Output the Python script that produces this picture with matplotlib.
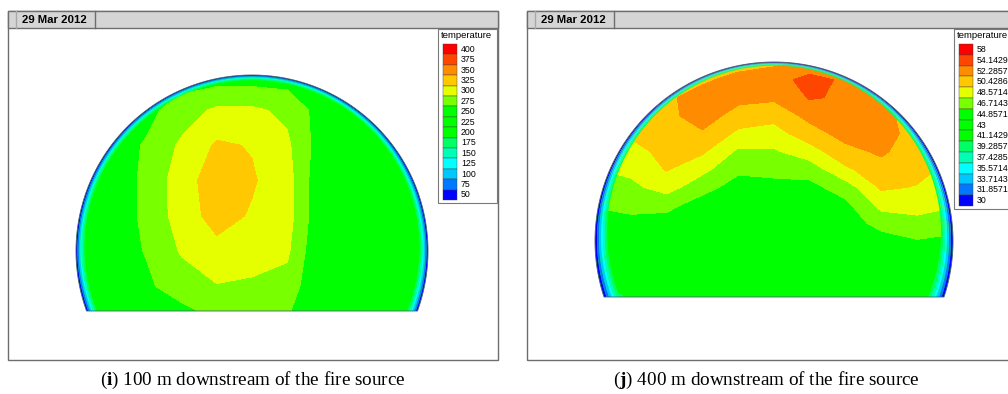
import matplotlib
matplotlib.use('Agg')
import matplotlib.pyplot as plt
from matplotlib.colors import ListedColormap, BoundaryNorm
from matplotlib.patches import Polygon, Rectangle, PathPatch
from matplotlib.path import Path
import numpy as np

plt.rcParams['mathtext.fontset'] = 'custom'
plt.rcParams['mathtext.rm'] = 'Liberation Serif'
plt.rcParams['mathtext.bf'] = 'Liberation Serif:bold'

# ---- data -------------------------------------------------------------
date_str = '29 Mar 2012'
legend_title = 'temperature'

# legend labels, top to bottom, as printed
labels_i = ['400', '375', '350', '325', '300', '275', '250', '225', '200',
            '175', '150', '125', '100', '75', '50']
labels_j = ['58', '54.1429', '52.2857', '50.4286', '48.5714', '46.7143',
            '44.8571', '43', '41.1429', '39.2857', '37.4285', '35.5714',
            '33.7143', '31.8571', '30']

# band colours, top to bottom
band_colors = ['#ff0000', '#ff4600', '#ff8c00', '#ffc800', '#e6ff00',
               '#78ff00', '#00ff00', '#00ff00', '#00ff00', '#00ff64',
               '#00ffb4', '#00ffff', '#00c8ff', '#0078ff', '#0000ff']

# section nodes: u across the tunnel, v up from the arc centre (radius = 1)
u_nodes = [-1.0, -0.8, -0.6, -0.4, -0.2, 0.0, 0.2, 0.4, 0.6, 0.8, 1.0]

v_nodes_i = [1.0, 0.8, 0.6, 0.4, 0.2, 0.0, -0.2, -0.4]
temp_i = [
    [245, 248, 250, 248, 248, 248, 248, 248, 250, 248, 245],
    [245, 250, 255, 275, 292, 292, 282, 250, 250, 248, 245],
    [245, 250, 265, 292, 316, 311, 292, 248, 250, 248, 245],
    [245, 250, 267, 302, 325, 315, 298, 240, 250, 248, 245],
    [245, 250, 267, 300, 322, 310, 298, 240, 250, 248, 245],
    [245, 250, 264, 290, 305, 300, 292, 235, 250, 248, 245],
    [245, 248, 258, 275, 286, 283, 278, 235, 250, 248, 245],
    [245, 245, 248, 248, 262, 272, 262, 235, 248, 248, 245],
]

v_nodes_j = [1.0, 0.9, 0.8, 0.7, 0.6, 0.5, 0.4, 0.3, 0.2, 0.1, 0.0,
             -0.1, -0.2, -0.3, -0.4]
# one list per column (u = -1 ... 1), values from v = 1.0 down to -0.4
cols_j = [
    [49.0, 49.0, 49.0, 49.0, 49.0, 48.3, 47.6, 46.8, 45.9, 45.0, 44.2, 43.6, 41.0, 39.0, 38.5],
    [50.5, 50.5, 50.5, 50.3, 49.75, 48.9, 48.06, 47.2, 46.26, 45.33, 44.4, 43.9, 43.0, 40.5, 41.0],
    [51.0, 51.0, 51.0, 50.8, 50.4, 50.0, 49.62, 48.4, 46.32, 45.0, 44.3, 43.8, 43.5, 43.3, 43.0],
    [50.0, 51.0, 52.2, 52.3, 51.1, 49.77, 48.15, 46.46, 44.9, 44.2, 43.8, 43.5, 43.3, 43.2, 43.0],
    [50.5, 52.0, 51.89, 50.56, 49.09, 47.29, 46.14, 45.0, 44.4, 44.0, 43.7, 43.5, 43.3, 43.2, 43.0],
    [51.0, 52.3, 51.67, 50.12, 48.7, 47.42, 46.33, 45.2, 44.6, 44.2, 43.9, 43.6, 43.4, 43.2, 43.0],
    [51.5, 54.0, 53.35, 51.9, 50.59, 48.64, 46.64, 45.2, 44.6, 44.2, 43.9, 43.6, 43.4, 43.2, 43.0],
    [51.0, 52.8, 53.0, 52.6, 52.0, 50.83, 49.13, 46.71, 45.3, 44.7, 44.2, 43.8, 43.5, 43.3, 43.0],
    [50.0, 50.0, 51.0, 52.2, 52.3, 51.64, 50.71, 49.78, 48.2, 46.51, 44.9, 44.3, 43.9, 43.6, 43.4],
    [49.5, 49.5, 49.5, 50.0, 50.4, 50.3, 50.0, 49.4, 48.34, 47.07, 45.65, 44.8, 44.2, 43.8, 43.5],
    [48.5, 48.5, 48.5, 48.5, 48.5, 48.5, 49.0, 48.8, 47.8, 46.6, 45.3, 44.6, 44.0, 43.7, 43.4],
]

# cold layer at the tunnel lining, outside -> inside
wall_i = [50, 75, 100, 125, 150, 175]
wall_j = [30, 31.8571, 33.7143, 35.5714, 37.4285, 39.2857]

captions = [('i', '100 m downstream of the fire source'),
            ('j', '400 m downstream of the fire source')]


# ---- helpers ----------------------------------------------------------
def scale(labels):
    vals = np.array([float(s) for s in labels])[::-1]
    mids = (vals[1:] + vals[:-1]) / 2
    bounds = np.concatenate([[vals[0] - (vals[1] - vals[0]) / 2], mids,
                             [vals[-1] + (vals[-1] - vals[-2]) / 2]])
    cols = band_colors[::-1]
    cmap = ListedColormap(cols)
    norm = BoundaryNorm(bounds, cmap.N)
    # merge neighbouring bands of the same colour (no seams in the fill)
    keep = [bounds[0]]
    mcols = [cols[0]]
    for k in range(1, len(cols)):
        if cols[k] != cols[k - 1]:
            keep.append(bounds[k])
            mcols.append(cols[k])
    keep.append(bounds[-1])
    return cmap, norm, np.array(keep), mcols


def dome_poly(cx, cy, r, cut):
    a = np.arcsin((cut - cy) / r)
    t = np.linspace(-a, np.pi + a, 300)
    return np.column_stack([cx + r * np.cos(t), cy - r * np.sin(t)])


def ring_path(cx, cy, r_out, s_out, r_in, s_in):
    t = np.linspace(0, 2 * np.pi, 241)
    outer = np.column_stack([cx + r_out * np.cos(t), cy + s_out + r_out * np.sin(t)])
    inner = np.column_stack([cx + r_in * np.cos(t[::-1]), cy + s_in + r_in * np.sin(t[::-1])])
    codes = [Path.MOVETO] + [Path.LINETO] * (len(t) - 2) + [Path.CLOSEPOLY]
    return Path(np.vstack([outer, inner]), codes + codes)


def panel(ax, x0, x1, labels, v_nodes, temp, wall, geo, leg, cap):
    top, bot = 11, 360
    # frame and header
    ax.add_patch(Rectangle((x0, top), x1 - x0, bot - top, fc='white', ec='#6e6e6e', lw=1.0))
    ax.add_patch(Rectangle((x0, top), x1 - x0, 17, fc='#d5d5d5', ec='#6e6e6e', lw=1.0))
    ax.plot([x0 + 8, x0 + 8], [top, top + 17], color='#a8a8a8', lw=1.0)
    ax.plot([x0 + 87, x0 + 87], [top, top + 17], color='#6e6e6e', lw=1.0)
    ax.text(x0 + 14, top + 8.5, date_str, fontsize=8.2, fontweight='bold',
            family='Liberation Sans', va='center', ha='left')

    cmap, norm, levels, mcols = scale(labels)
    cx, cy, r, cut, depth, shift = geo
    outline = Polygon(dome_poly(cx, cy, r, cut), closed=True, fc='none',
                      ec='#4a5a7a', lw=0.6, transform=ax.transData)

    U, V = np.meshgrid(np.array(u_nodes), np.array(v_nodes))
    X = cx + U * r
    Y = cy - V * r
    cs = ax.contourf(X, Y, np.array(temp, dtype=float), levels=levels,
                     colors=mcols, antialiased=False)
    cs.set_clip_path(outline)

    # lining layer
    edges = np.linspace(0, depth, len(wall) + 1)
    for k, val in enumerate(wall):
        d0, d1 = edges[k], edges[k + 1]
        p = PathPatch(ring_path(cx, cy, r - d0, shift * d0, r - d1, shift * d1),
                      fc=cmap(norm(val)), ec='none')
        ax.add_patch(p)
        p.set_clip_path(outline)
    ax.add_patch(outline)

    # legend
    lx, ly, lw_, lh, step = leg
    ax.add_patch(Rectangle((lx, ly), lw_, lh, fc='white', ec='#7a7a7a', lw=0.8))
    ax.text(lx + 2.5, ly + 6, legend_title, fontsize=6.8, family='Liberation Sans',
            va='center', ha='left')
    y = ly + 15
    for k, lab in enumerate(labels):
        ax.add_patch(Rectangle((lx + 5, y + k * step), 14, step, fc=band_colors[k],
                               ec='#404040', lw=0.3))
        ax.text(lx + 23, y + (k + 0.5) * step, lab, fontsize=6.3,
                family='Liberation Sans', va='center', ha='left')

    # caption
    tag, text = cap
    ax.text((x0 + min(x1, 1008)) / 2 + (0 if x1 < 1008 else -1), 380,
            r'($\mathbf{%s}$) %s' % (tag, text), fontsize=13.8,
            family='Liberation Serif', ha='center', va='center')


fig = plt.figure(figsize=(10.08, 3.94), dpi=100)
ax = fig.add_axes([0, 0, 1, 1])
ax.set_xlim(0, 1008)
ax.set_ylim(394, 0)
ax.axis('off')

temp_j = np.array(cols_j).T

panel(ax, 8, 498, labels_i, v_nodes_i, temp_i, wall_i,
      (252, 251, 176, 311, 8.5, -0.4), (438, 29, 59, 174, 10.4), captions[0])
panel(ax, 527, 1030, labels_j, v_nodes_j, temp_j, wall_j,
      (774, 241, 179, 297, 12.0, -0.7), (954, 29, 70, 180, 10.8), captions[1])

fig.savefig('out.png', dpi=100)
